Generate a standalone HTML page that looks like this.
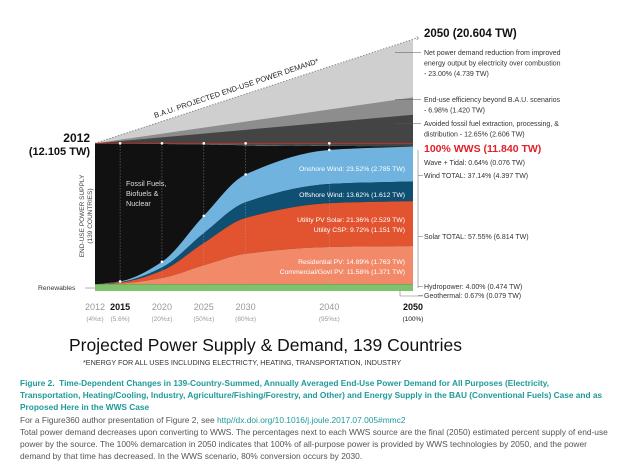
<!DOCTYPE html>
<html><head><meta charset="utf-8"><style>
body{margin:0;background:#fff;width:620px;height:470px;overflow:hidden;font-family:"Liberation Sans",sans-serif}
svg{position:absolute;left:0;top:0}
.cap{position:absolute;left:20px;width:588px;font-size:8.4px;line-height:12px}
</style></head><body>
<svg id="chart" width="620" height="470"></svg>
<div class="cap" style="top:377px;color:#1f9a9a;font-weight:bold;font-size:8.3px;line-height:12px">Figure 2.&nbsp; Time-Dependent Changes in 139-Country-Summed, Annually Averaged End-Use Power Demand for All Purposes (Electricity, Transportation, Heating/Cooling, Industry, Agriculture/Fishing/Forestry, and Other) and Energy Supply in the BAU (Conventional Fuels) Case and as Proposed Here in the WWS Case</div>
<div class="cap" style="top:414px;color:#555">For a Figure360 author presentation of Figure 2, see <span style="color:#1f9a9a">http//dx.doi.org/10.1016/j.joule.2017.07.005#mmc2</span><br>Total power demand decreases upon converting to WWS. The percentages next to each WWS source are the final (2050) estimated percent supply of end-use power by the source. The 100% demarcation in 2050 indicates that 100% of all-purpose power is provided by WWS technologies by 2050, and the power demand by that time has decreased. In the WWS scenario, 80% conversion occurs by 2030.</div>
<script>
const years=[2012,2015,2020,2025,2030,2040,2050];
const yearLabels=["2012","2015","2020","2025","2030","2040","2050"];
const pctLabels=["(4%±)","(5.6%)","(20%±)","(50%±)","(80%±)","(95%±)","(100%)"];
const wwsFrac=[0.0,0.02,0.16,0.49,0.79,0.97,1.0];
const totalSupply=[12.105,12.1,12.05,12.0,11.95,11.9,11.84];
const renewablesTW=0.553;
const layerNames=["commercial-residential-pv","utility-solar","offshore-wind","onshore-wind"];
const layerTW2050=[3.134,3.68,1.612,2.861];
const layerColors=["#f28a6a","#e2532f","#0f4f72","#6fb3de"];
const bauStart=12.105, bauEnd=20.604;
const demandNames=["avoided-fossil","end-use-efficiency","net-demand-reduction"];
const demandTW2050=[2.606,1.42,4.739];
const demandColors=["#444","#8d8d8d","#cfcfcf"];

const NS="http://www.w3.org/2000/svg";
const svg=document.getElementById('chart');
const X=y=>95+(y-2012)*(413-95)/38;
const Y=v=>291-v*12.2;
function el(t,a,p){const e=document.createElementNS(NS,t);for(const k in a)e.setAttribute(k,a[k]);(p||svg).appendChild(e);return e;}
function txt(s,x,y,a){const e=el('text',Object.assign({x:x,y:y,'font-size':7},a));e.textContent=s;return e;}
function interp(arr,t){
  let i=0;while(i<years.length-2&&t>years[i+1])i++;
  const x0=years[i],x1=years[i+1],h=x1-x0,s=(t-x0)/h;
  const m=k=>{if(k===0)return (arr[1]-arr[0])/(years[1]-years[0]);if(k===years.length-1)return (arr[k]-arr[k-1])/(years[k]-years[k-1]);
    const d0=(arr[k]-arr[k-1])/(years[k]-years[k-1]),d1=(arr[k+1]-arr[k])/(years[k+1]-years[k]);return d0*d1<=0?0:2/(1/d0+1/d1);};
  const h00=2*s*s*s-3*s*s+1,h10=s*s*s-2*s*s+s,h01=-2*s*s*s+3*s*s,h11=s*s*s-s*s;
  return h00*arr[i]+h10*h*m(i)+h01*arr[i+1]+h11*h*m(i+1);
}
const totalL=layerTW2050.reduce((a,b)=>a+b,0);
const samples=[];for(let t=2012;t<=2050.001;t+=0.5)samples.push(t);
function cumAt(t,k){const tot=interp(totalSupply,t);const w=(tot-renewablesTW)*Math.max(0,interp(wwsFrac,t));let c=renewablesTW;for(let j=0;j<k;j++)c+=w*layerTW2050[j]/totalL;return c;}
const demandG=el('g',{});
for(let k=demandTW2050.length-1;k>=0;k--){
  let top=totalSupply[6];for(let j=0;j<=k;j++)top+=demandTW2050[j];
  const topEnd = k===demandTW2050.length-1? bauEnd: top;
  const p=el('polygon',{points:`${X(2012)},${Y(bauStart)} ${X(2050)},${Y(topEnd)} ${X(2050)},${Y(totalSupply[6])}`,fill:demandColors[k]},demandG);
  
  
}
el('line',{x1:X(2012),y1:Y(bauStart),x2:X(2050)+5,y2:Y(bauEnd)-2,stroke:'#888','stroke-dasharray':'1.5,1.5','stroke-width':1,});
txt('›',X(2050)+3,Y(bauEnd)+1,{'font-size':9,fill:'#888'});
let fp=`M${X(2012)},${Y(totalSupply[0])}`;samples.forEach(t=>fp+=` L${X(t)},${Y(interp(totalSupply,t))}`);fp+=` L${X(2050)},${Y(0)} L${X(2012)},${Y(0)}Z`;
el('path',{d:fp,fill:'#111',});
for(let k=layerTW2050.length-1;k>=0;k--){
  let d='';samples.forEach((t,i)=>d+=(i?' L':'M')+X(t)+','+Y(cumAt(t,k+1)));
  for(let i=samples.length-1;i>=0;i--)d+=' L'+X(samples[i])+','+Y(cumAt(samples[i],k));
  const p=el('path',{d:d+'Z',fill:layerColors[k]});
  
  
}
el('rect',{x:X(2012),y:Y(renewablesTW),width:X(2050)-X(2012),height:Y(0)-Y(renewablesTW),fill:'#7cc36c',});
el('line',{x1:X(2012),y1:Y(totalSupply[0]),x2:X(2050),y2:Y(totalSupply[0]),stroke:'#c0392b','stroke-width':0.8,});
years.forEach((yr,i)=>{
  if(i>0&&i<6){
    const l=el('line',{x1:X(yr),y1:Y(totalSupply[0]),x2:X(yr),y2:Y(renewablesTW),stroke:'#aaa','stroke-dasharray':'1,2','stroke-width':0.6});
    
    
    const c1=el('circle',{cx:X(yr),cy:Y(totalSupply[0]),r:1.3,fill:'#fff'});
    
    
    const c2=el('circle',{cx:X(yr),cy:Y(cumAt(yr,4)),r:1.3,fill:'#fff'});
    
    
  }
  const t1=txt(yearLabels[i],X(yr),310,{'text-anchor':'middle','font-size':9,fill:(i==1||i==6)?'#111':'#999','font-weight':(i==1||i==6)?'bold':'normal'});
  
  
  const t2=txt(pctLabels[i],X(yr),321,{'text-anchor':'middle','font-size':6.5,fill:i==6?'#111':'#999'});
  
  
});
txt('2012',90,142,{'text-anchor':'end','font-size':12,'font-weight':'bold',fill:'#111',});
txt('(12.105 TW)',90,155,{'text-anchor':'end','font-size':11,'font-weight':'bold',fill:'#111',});
txt('2050 (20.604 TW)',424,37,{'font-size':11.5,'font-weight':'bold',fill:'#111',});
const g=el('g',{transform:'translate(155,118) rotate(-18.5)',});
const bt=document.createElementNS(NS,'text');bt.setAttribute('font-size','7.5');bt.setAttribute('fill','#222');bt.textContent='B.A.U. PROJECTED  END-USE  POWER DEMAND*';g.appendChild(bt);
const yl=el('g',{transform:'translate(84,216) rotate(-90)',});
[['END-USE POWER SUPPLY',0],['(139 COUNTRIES)',8]].forEach(a=>{const t=document.createElementNS(NS,'text');t.setAttribute('y',a[1]);t.setAttribute('text-anchor','middle');t.setAttribute('font-size','6.5');t.setAttribute('fill','#444');t.textContent=a[0];yl.appendChild(t);});
[['Fossil Fuels,',186],['Biofuels &',196],['Nuclear',206]].forEach(a=>txt(a[0],126,a[1],{fill:'#ddd','font-size':7.2,}));
txt('Renewables',38,290,{'font-size':6.8,fill:'#333',});
el('line',{x1:85,y1:288,x2:95,y2:288,stroke:'#666','stroke-width':0.5});
[['Onshore Wind: 23.52% (2.785 TW)',171],['Offshore Wind: 13.62% (1.612 TW)',197],['Utility PV Solar: 21.36% (2.529 TW)',222],['Utility CSP: 9.72% (1.151 TW)',232],['Residential PV: 14.89% (1.763 TW)',264],['Commercial/Govt PV: 11.58% (1.371 TW)',274]].forEach(a=>txt(a[0],405,a[1],{'text-anchor':'end','font-size':6.8,fill:'#fff',}));
[[55,['Net power demand reduction from improved','energy output by electricity over combustion','- 23.00% (4.739 TW)']],[102,['End-use efficiency beyond B.A.U. scenarios','- 6.98% (1.420 TW)']],[126,['Avoided fossil fuel extraction, processing, &','distribution  - 12.65% (2.606 TW)']]].forEach(a=>{
  el('line',{x1:395,y1:a[0]-2.5,x2:421,y2:a[0]-2.5,stroke:'#555','stroke-width':0.6});
  a[1].forEach((s,i)=>txt(s,424,a[0]+i*10.5,{'font-size':7,fill:'#333',}));
});
txt('100% WWS (11.840 TW)',424,152,{'font-size':10.5,'font-weight':'bold',fill:'#e0202a',});
el('line',{x1:418,y1:150,x2:418,y2:288,stroke:'#777','stroke-width':0.6});
[['Wave + Tidal: 0.64% (0.076 TW)',165],['Wind TOTAL: 37.14% (4.397 TW)',178],['Solar TOTAL: 57.55% (6.814 TW)',239],['Hydropower: 4.00% (0.474 TW)',289],['Geothermal: 0.67% (0.079 TW)',298]].forEach((a,i)=>{
  if(i>0){el('line',{x1:418,y1:a[1]-2.5,x2:423,y2:a[1]-2.5,stroke:'#777','stroke-width':0.6});}
  txt(a[0],424,a[1],{'font-size':7,fill:'#333',});
});
el('line',{x1:400,y1:291,x2:400,y2:296,stroke:'#777','stroke-width':0.6});
el('line',{x1:400,y1:296,x2:423,y2:296,stroke:'#777','stroke-width':0.6});
txt('Projected Power Supply & Demand, 139 Countries',69,351,{'font-size':17.5,fill:'#111',});
txt('*ENERGY FOR ALL USES INCLUDING ELECTRICTY, HEATING, TRANSPORTATION, INDUSTRY',83,365,{'font-size':7.2,fill:'#333',});
</script>
</body></html>
